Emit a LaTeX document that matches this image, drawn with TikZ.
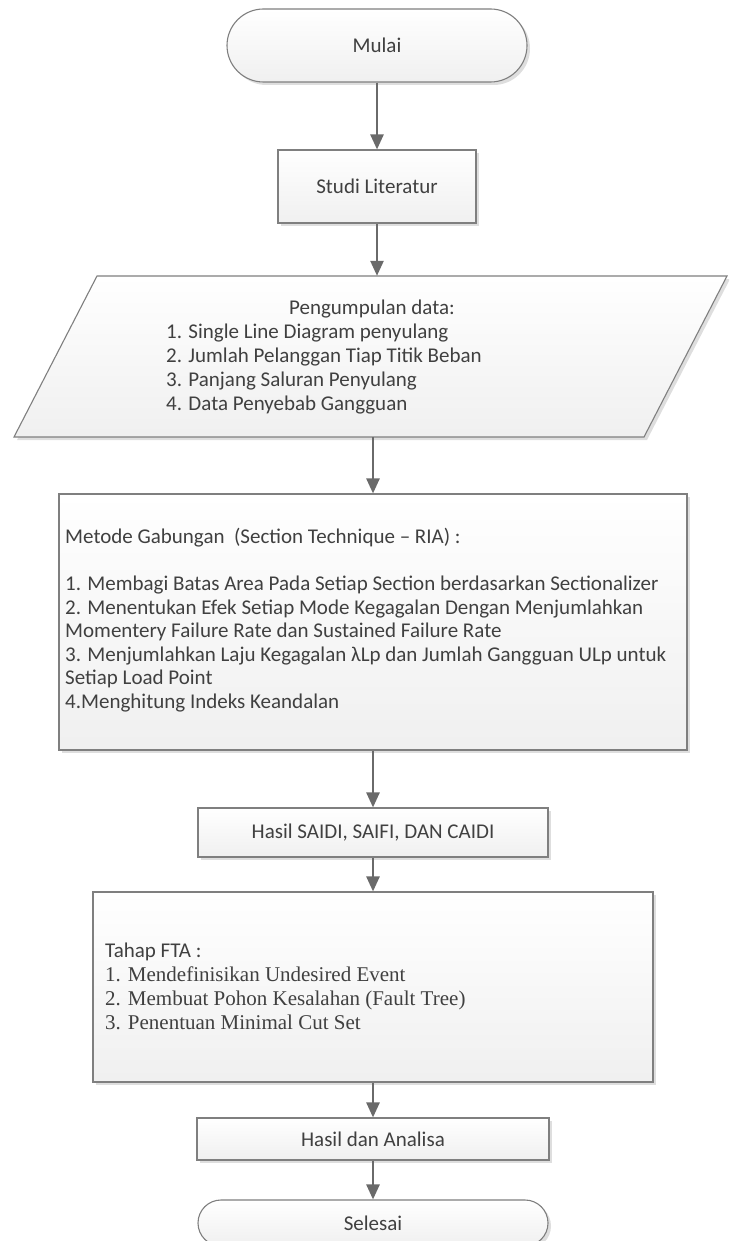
\documentclass[tikz,border=0pt]{standalone}
\usepackage{fontspec}
\setmainfont{Carlito}
\newfontfamily\tnr{Liberation Serif}
\usetikzlibrary{shapes.misc,arrows.meta,shadows,calc}
\definecolor{txt}{HTML}{404040}
\definecolor{edge}{HTML}{7F7F7F}
\definecolor{arrowc}{HTML}{6A6A6A}
\begin{document}
\begin{tikzpicture}[x=1pt,y=-1pt,
  box/.style={draw=edge, line width=1.1pt, top color=white, bottom color=black!6,
    drop shadow={shadow xshift=3pt, shadow yshift=-3pt, fill=black, opacity=0.13}, inner sep=0pt},
  term/.style={box, rounded rectangle},
  lbl/.style={text=txt, font=\fontsize{21}{24}\selectfont, inner sep=0pt},
  arr/.style={draw=arrowc, line width=2.5pt, -{Triangle[width=13pt,length=15pt]}}
]
\clip (0,0) rectangle (729,1241);
\fill[white] (0,0) rectangle (729,1241);

% Mulai
\node[term, lbl, minimum width=300pt, minimum height=73pt] (mulai) at (377,45.5) {Mulai};
% Studi Literatur
\node[box, lbl, minimum width=198pt, minimum height=73pt] (studi) at (377,186.5) {Studi Literatur};

% Pengumpulan data (parallelogram)
\path[box] (97,276) -- (727,276) -- (644,437) -- (14,437) -- cycle;
\node[minimum width=630pt, minimum height=161pt, inner sep=0pt] (data) at (370.5,356.5) {};
\node[lbl, anchor=base] (dtitle) at (372,314) {Pengumpulan data:};
\node[lbl, anchor=north west, align=left] (dlist) at (166,321.2)
  {\strut 1. Single Line Diagram penyulang\\
   \strut 2. Jumlah Pelanggan Tiap Titik Beban\\
   \strut 3. Panjang Saluran Penyulang\\
   \strut 4. Data Penyebab Gangguan};

% Metode Gabungan
\node[box, minimum width=628pt, minimum height=256pt] (metode) at (373,622) {};
\node[text=txt, inner sep=0pt, font=\fontsize{21}{23.6}\selectfont, anchor=north west, align=left] (mtext) at (65,526.5)
  {\strut Metode Gabungan\ \ (Section Technique – RIA) :\\
   \strut\\
   \strut 1. Membagi Batas Area Pada Setiap Section berdasarkan Sectionalizer\\
   \strut 2. Menentukan Efek Setiap Mode Kegagalan Dengan Menjumlahkan\\
   \strut Momentery Failure Rate dan Sustained Failure Rate\\
   \strut 3. Menjumlahkan Laju Kegagalan λLp dan Jumlah Gangguan ULp untuk\\
   \strut Setiap Load Point\\
   \strut 4.Menghitung Indeks Keandalan};

% Hasil SAIDI
\node[box, lbl, minimum width=350pt, minimum height=49pt] (saidi) at (373,832.5) {Hasil SAIDI, SAIFI, DAN CAIDI};

% Tahap FTA
\node[box, minimum width=560pt, minimum height=190pt] (fta) at (373,987) {};
\node[lbl, anchor=north west, align=left] (ftext) at (105,940.2)
  {\strut Tahap FTA :\\
   {\tnr\strut 1. Mendefinisikan Undesired Event}\\
   {\tnr\strut 2. Membuat Pohon Kesalahan (Fault Tree)}\\
   {\tnr\strut 3. Penentuan Minimal Cut Set}};

% Hasil dan Analisa
\node[box, lbl, minimum width=352pt, minimum height=42pt] (hda) at (373,1139) {Hasil dan Analisa};
% Selesai
\node[term, lbl, minimum width=350pt, minimum height=46pt] (selesai) at (373,1223) {Selesai};

% connectors
\draw[arr] (mulai.south) -- (studi.north);
\draw[arr] (studi.south) -- (studi.south |- data.north);
\draw[arr] (data.south -| metode.north) -- (metode.north);
\draw[arr] (metode.south) -- (saidi.north);
\draw[arr] (saidi.south) -- (fta.north);
\draw[arr] (fta.south) -- (hda.north);
\draw[arr] (hda.south) -- (selesai.north);
\end{tikzpicture}
\end{document}
